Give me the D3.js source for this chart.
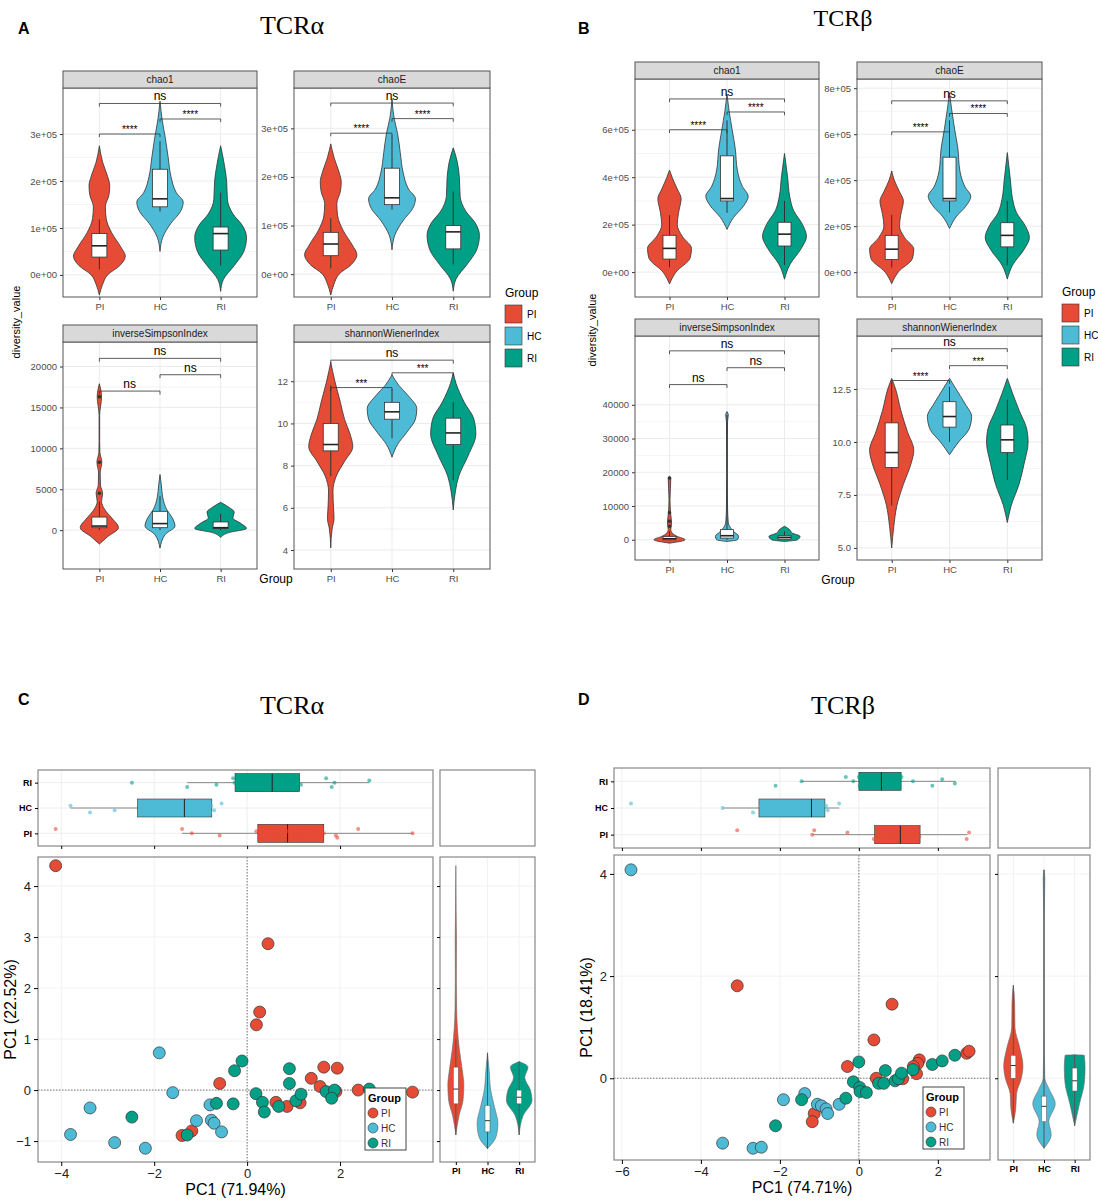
<!DOCTYPE html>
<html><head><meta charset="utf-8">
<script src="https://cdn.jsdelivr.net/npm/d3@7"></script>
<style>body{margin:0;background:#fff}text{font-family:"Liberation Sans",Arial,sans-serif}</style>
</head><body><svg id="fig" width="1098" height="1200"></svg>
<script>
const groups = ["PI", "HC", "RI"];
const colors = ["#E64B35", "#4DBBD5", "#00A087"];

// ---- panel A (TCRα) violin profiles: [value, relative half width] ----
const aChao1 = [
  [[-0.43,0],[-0.2,0.12],[0,0.3],[0.2,0.75],[0.4,0.95],[0.6,0.78],[0.9,0.45],[1.2,0.25],[1.45,0.22],[1.7,0.35],[1.9,0.38],[2.1,0.3],[2.4,0.12],[2.75,0]],
  [[0.5,0],[0.8,0.1],[1.1,0.4],[1.35,0.75],[1.55,0.85],[1.75,0.6],[2.1,0.4],[2.5,0.3],[2.9,0.2],[3.3,0.08],[3.7,0]],
  [[-0.35,0],[-0.1,0.1],[0.2,0.5],[0.5,0.85],[0.8,0.95],[1.05,0.8],[1.3,0.45],[1.6,0.25],[2.0,0.22],[2.3,0.15],[2.75,0]]];
const aChao1Box = [[0.12,0.38,0.62,0.88,1.18],[1.35,1.45,1.62,2.25,2.85],[0.2,0.53,0.88,1.02,1.75]];
const aChaoE = [
  [[-0.43,0],[-0.2,0.12],[0,0.3],[0.2,0.75],[0.4,0.95],[0.6,0.78],[0.9,0.45],[1.2,0.25],[1.45,0.22],[1.7,0.35],[1.9,0.38],[2.1,0.3],[2.4,0.12],[2.68,0]],
  [[0.5,0],[0.8,0.1],[1.1,0.4],[1.35,0.75],[1.55,0.85],[1.75,0.6],[2.1,0.4],[2.5,0.3],[2.9,0.2],[3.2,0.08],[3.6,0]],
  [[-0.35,0],[-0.1,0.1],[0.2,0.5],[0.5,0.85],[0.8,0.95],[1.05,0.8],[1.3,0.45],[1.6,0.25],[2.0,0.22],[2.3,0.15],[2.6,0]]];
const aChaoEBox = [[0.12,0.38,0.62,0.86,1.15],[1.33,1.43,1.57,2.18,2.85],[0.2,0.52,0.87,1.0,1.7]];
const aInv = [
  [[-1.7,0],[-0.8,0.3],[0.3,0.7],[1.5,0.45],[2.5,0.2],[3.5,0.08],[4.5,0.12],[5.5,0.04],[7,0.03],[8.3,0.09],[9.5,0.02],[11,0.01],[14,0.01],[16.3,0.08],[17.9,0]],
  [[-2.2,0],[-0.5,0.2],[0.5,0.55],[1.5,0.45],[2.5,0.25],[4,0.1],[5.5,0.05],[6.8,0]],
  [[-0.9,0],[-0.3,0.3],[0.2,0.95],[0.8,0.75],[1.5,0.45],[2.2,0.5],[2.8,0.3],[3.4,0]]];
const aInvBox = [[0,0.3,0.5,1.6,3.5],[0,0.3,0.8,2.3,4.2],[0,0.2,0.3,1.0,2.0]];
const aInvOut = [[4.5,8.3,16.3],[],[]];
const aSha = [
  [[4.1,0],[5,0.05],[5.5,0.12],[6,0.1],[6.8,0.08],[7.5,0.2],[8.2,0.5],[8.9,0.8],[9.5,0.7],[10.2,0.5],[11,0.35],[12,0.15],[12.9,0]],
  [[8.4,0],[9,0.2],[9.6,0.55],[10.2,0.85],[10.7,0.9],[11.3,0.6],[11.8,0.25],[12.3,0]],
  [[5.9,0],[6.8,0.08],[7.5,0.2],[8.5,0.55],[9.5,0.82],[10.2,0.75],[11,0.4],[11.9,0.1],[12.4,0]]];
const aShaBox = [[7.5,8.7,9.0,10.0,11.8],[9.3,10.2,10.55,11.0,11.6],[7.3,9.0,9.55,10.25,11.0]];

// ---- panel B (TCRβ) ----
const bChao1 = [
  [[-0.5,0],[0,0.25],[0.6,0.8],[1.0,0.85],[1.5,0.5],[2.0,0.3],[2.5,0.35],[3.1,0.45],[3.5,0.3],[4.0,0.1],[4.3,0]],
  [[1.8,0],[2.3,0.25],[2.8,0.65],[3.2,0.82],[3.6,0.6],[4.3,0.4],[5.2,0.32],[6.0,0.2],[6.8,0.08],[7.5,0]],
  [[-0.3,0],[0.3,0.2],[1.0,0.65],[1.5,0.85],[2.0,0.7],[2.6,0.35],[3.2,0.2],[4.0,0.12],[5.0,0]]];
const bChao1Box = [[0.2,0.55,1.0,1.55,2.4],[2.5,3.0,3.1,4.9,6.4],[0.3,1.1,1.6,2.1,3.0]];
const bChaoE = [
  [[-0.5,0],[0,0.25],[0.6,0.8],[1.0,0.85],[1.5,0.5],[2.0,0.3],[2.5,0.35],[3.1,0.45],[3.5,0.3],[4.0,0.1],[4.4,0]],
  [[1.9,0],[2.4,0.25],[2.9,0.65],[3.3,0.82],[3.7,0.6],[4.4,0.4],[5.4,0.32],[6.2,0.2],[7.1,0.08],[7.8,0]],
  [[-0.3,0],[0.3,0.2],[1.0,0.65],[1.5,0.85],[2.0,0.7],[2.6,0.35],[3.2,0.2],[4.0,0.12],[5.2,0]]];
const bChaoEBox = [[0.2,0.55,1.0,1.6,2.5],[2.6,3.1,3.2,5.0,6.6],[0.3,1.1,1.6,2.15,3.1]];
const bInv = [
  [[-1,0],[0,0.6],[1,0.3],[2,0.1],[3,0.05],[5,0.08],[8,0.04],[12,0.02],[18.3,0.05],[18.8,0]],
  [[-0.5,0],[0,0.4],[1,0.45],[2.5,0.25],[5,0.05],[10,0.02],[20,0.01],[35,0.02],[37,0.05],[38,0]],
  [[-0.5,0],[0,0.5],[1,0.6],[2,0.3],[3,0.2],[4,0]]];
const bInvBox = [[0,0,0.3,1.0,2.5],[0,0.5,1.2,3.0,37],[0,0.2,0.7,1.2,2.5]];
const bInvOut = [[4,5.5,8,18.3],[],[]];
const bSha = [
  [[5.0,0],[6,0.08],[7,0.2],[8,0.45],[9,0.75],[9.6,0.85],[10.5,0.6],[11.5,0.35],[12.5,0.15],[13,0]],
  [[9.4,0],[10,0.35],[10.6,0.75],[11.2,0.85],[11.8,0.6],[12.5,0.25],[13,0]],
  [[6.2,0],[7,0.15],[8,0.45],[9,0.65],[10,0.8],[10.6,0.75],[11.5,0.45],[12.3,0.2],[13,0]]];
const bShaBox = [[7,8.8,9.5,10.9,12.8],[10,10.7,11.2,11.9,12.6],[8.2,9.5,10.1,10.8,12]];

// significance brackets: [from, to, value, label]
const aChao1Sig = [[0,1,3.0,"****"],[1,2,3.32,"****"],[0,2,3.65,"ns"]];
const aChaoESig = [[0,1,2.9,"****"],[1,2,3.2,"****"],[0,2,3.52,"ns"]];
const aInvSig = [[0,1,17,"ns"],[1,2,19,"ns"],[0,2,21,"ns"]];
const aShaSig = [[0,1,11.7,"***"],[1,2,12.4,"***"],[0,2,13.0,"ns"]];
const bChao1Sig = [[0,1,6.0,"****"],[1,2,6.75,"****"],[0,2,7.3,"ns"]];
const bChaoESig = [[0,1,6.1,"****"],[1,2,6.9,"****"],[0,2,7.45,"ns"]];
const bInvSig = [[0,1,46,"ns"],[1,2,51,"ns"],[0,2,56,"ns"]];
const bShaSig = [[0,1,12.9,"****"],[1,2,13.6,"***"],[0,2,14.4,"ns"]];

// ---- panel C PCA points [PC1, PC2] ----
const cPI = [[-4.12,4.40],[0.45,2.87],[0.27,1.53],[0.20,1.28],[-0.59,0.13],[1.38,0.23],[1.65,0.45],[1.94,0.43],[1.57,0.07],[1.91,-0.03],[2.39,0],[3.56,-0.04],[0.62,-0.24],[0.86,-0.32],[1.14,-0.25],[-1.40,-0.89],[-1.19,-0.80]];
const cHC = [[-1.89,0.73],[-1.60,-0.05],[-3.38,-0.35],[-3.80,-0.87],[-2.85,-1.03],[-2.19,-1.14],[-1.09,-0.60],[-0.80,-0.29],[-0.77,-0.59],[-0.71,-0.65],[-0.55,-0.82]];
const cRI = [[-0.11,0.57],[-0.27,0.38],[0.91,0.42],[0.91,0.13],[0.19,-0.07],[0.33,-0.24],[0.37,-0.43],[0.68,-0.32],[1.05,-0.21],[1.16,-0.08],[1.70,-0.03],[1.88,0],[1.82,-0.16],[2.63,0.02],[-0.66,-0.26],[-0.30,-0.27],[-2.48,-0.53],[-1.29,-0.88]];
const cTopBox = [[-1.4,0.23,0.87,1.65,3.56],[-3.8,-2.36,-1.35,-0.76,-0.76],[-1.29,-0.26,0.54,1.13,2.63]];
const cSide = [
  [[-0.88,0],[-0.5,0.2],[-0.2,0.45],[0.1,0.5],[0.4,0.4],[0.8,0.22],[1.2,0.1],[1.6,0.05],[2.2,0.03],[2.9,0.04],[3.5,0.02],[4.4,0]],
  [[-1.15,0],[-0.9,0.55],[-0.65,0.65],[-0.35,0.45],[0,0.2],[0.4,0.1],[0.73,0]],
  [[-0.88,0],[-0.5,0.25],[-0.2,0.8],[0,0.7],[0.25,0.35],[0.45,0.55],[0.56,0]]];
const cSideBox = [[-0.88,-0.27,0.02,0.45,1.0],[-1.15,-0.82,-0.6,-0.3,0.73],[-0.88,-0.27,-0.14,0.0,0.56]];

// ---- panel D ----
const dPI = [[-3.08,1.81],[0.84,1.45],[0.38,0.75],[-0.29,0.23],[0.44,0],[-1.13,-0.69],[-1.18,-0.85],[1.11,-0.01],[1.46,0.09],[1.53,0.36],[1.49,0.29],[1.38,0.23],[2.73,0.49],[2.79,0.53]];
const dHC = [[-5.77,4.08],[-3.45,-1.27],[-2.68,-1.37],[-2.47,-1.35],[-1.91,-0.42],[-1.37,-0.30],[-1.05,-0.51],[-0.95,-0.54],[-0.83,-0.60],[-0.79,-0.69],[-0.50,-0.51]];
const dRI = [[0,0.32],[-0.14,-0.07],[0.02,-0.18],[0.03,-0.26],[0.19,-0.28],[0.50,-0.10],[0.63,-0.10],[0.67,0.15],[0.92,-0.05],[1.00,-0.01],[1.08,0.10],[1.37,0.17],[1.86,0.27],[2.11,0.34],[2.43,0.45],[-0.33,-0.39],[-1.45,-0.42],[-2.11,-0.93]];
const dTopBox = [[-1.16,0.4,1.05,1.55,2.75],[-3.43,-2.53,-1.2,-0.86,-0.5],[-1.45,0.0,0.57,1.07,2.45]];
const dSide = [
  [[-0.88,0],[-0.6,0.15],[-0.3,0.2],[0,0.5],[0.25,0.6],[0.6,0.4],[1.0,0.1],[1.5,0.08],[1.82,0]],
  [[-1.37,0],[-1.1,0.45],[-0.85,0.3],[-0.5,0.7],[-0.2,0.3],[0,0.05],[1,0.01],[3,0.01],[3.9,0.05],[4.08,0]],
  [[-0.93,0],[-0.5,0.3],[-0.1,0.6],[0.2,0.65],[0.45,0.6],[0.46,0]]];
const dSideBox = [[-0.88,0,0.25,0.45,1.82],[-1.37,-0.85,-0.55,-0.35,4.08],[-0.93,-0.25,-0.05,0.2,0.46]];

const svg = d3.select("#fig");
const GRID = "#ebebeb", BORDER = "#333";

function sciFmt(v) { return v === 0 ? "0e+00" : (v / 1e5) + "e+05"; }

function facet(o) {
  const g = svg.append("g");
  const x = d3.scalePoint().domain(groups).range([o.x0, o.x1]).padding(0.6);
  const y = d3.scaleLinear().domain(o.dom).range([o.y1, o.y0]);
  const step = x.step();
  const ticks = o.ticks;
  // minor + major grid
  for (let i = 0; i < ticks.length - 1; i++) {
    const m = (ticks[i] + ticks[i + 1]) / 2;
    g.append("line").attr("x1", o.x0).attr("x2", o.x1).attr("y1", y(m)).attr("y2", y(m)).attr("stroke", "#f4f4f4");
  }
  ticks.forEach(t => g.append("line").attr("x1", o.x0).attr("x2", o.x1).attr("y1", y(t)).attr("y2", y(t)).attr("stroke", GRID));
  groups.forEach(c => g.append("line").attr("x1", x(c)).attr("x2", x(c)).attr("y1", o.y0).attr("y2", o.y1).attr("stroke", GRID));
  // axes
  const ya = g.append("g").attr("transform", `translate(${o.x0},0)`)
    .call(d3.axisLeft(y).tickValues(ticks).tickFormat(o.fmt || (d => d)).tickSize(3));
  ya.select(".domain").remove();
  ya.selectAll("text").attr("fill", "#4d4d4d").style("font-size", "9.5px");
  ya.selectAll("line").attr("stroke", "#333");
  const xa = g.append("g").attr("transform", `translate(0,${o.y1})`).call(d3.axisBottom(x).tickSize(3));
  xa.select(".domain").remove();
  xa.selectAll("text").attr("fill", "#4d4d4d").style("font-size", "9.5px");
  xa.selectAll("line").attr("stroke", "#333");
  // violins
  const hw = step * 0.45;
  o.vio.forEach((prof, i) => {
    const cx = x(groups[i]);
    const area = d3.area().y(d => y(d[0])).x0(d => cx - d[1] * hw).x1(d => cx + d[1] * hw).curve(d3.curveMonotoneY);
    g.append("path").attr("d", area(prof)).attr("fill", colors[i]).attr("stroke", "#333").attr("stroke-width", 0.8);
    const b = o.box[i], bw = o.bw;
    g.append("line").attr("x1", cx).attr("x2", cx).attr("y1", y(b[0])).attr("y2", y(b[4])).attr("stroke", "#333");
    g.append("rect").attr("x", cx - bw / 2).attr("width", bw).attr("y", y(b[3])).attr("height", y(b[1]) - y(b[3]))
      .attr("fill", "#fff").attr("stroke", "#333").attr("stroke-width", 0.8);
    g.append("line").attr("x1", cx - bw / 2).attr("x2", cx + bw / 2).attr("y1", y(b[2])).attr("y2", y(b[2])).attr("stroke", "#222").attr("stroke-width", 1.6);
    (o.out ? o.out[i] : []).forEach(v => g.append("circle").attr("cx", cx).attr("cy", y(v)).attr("r", 1.8).attr("fill", "#333"));
  });
  // brackets
  const tip = (o.dom[1] - o.dom[0]) * 0.015;
  o.sig.forEach(s => {
    const xa1 = x(groups[s[0]]), xb = x(groups[s[1]]);
    g.append("path").attr("d", `M${xa1},${y(s[2] - tip)}V${y(s[2])}H${xb}V${y(s[2] - tip)}`).attr("fill", "none").attr("stroke", "#333").attr("stroke-width", 0.8);
    g.append("text").attr("x", (xa1 + xb) / 2).attr("y", y(s[2]) - (s[3] === "ns" ? 3 : 1)).attr("text-anchor", "middle")
      .style("font-size", s[3] === "ns" ? "12px" : "10px").text(s[3]);
  });
  // border + strip
  g.append("rect").attr("x", o.x0).attr("y", o.y0).attr("width", o.x1 - o.x0).attr("height", o.y1 - o.y0).attr("fill", "none").attr("stroke", "#555");
  g.append("rect").attr("x", o.x0).attr("y", o.y0 - 17).attr("width", o.x1 - o.x0).attr("height", 17).attr("fill", "#d9d9d9").attr("stroke", "#555");
  g.append("text").attr("x", (o.x0 + o.x1) / 2).attr("y", o.y0 - 5).attr("text-anchor", "middle").style("font-size", "10px").attr("fill", "#1a1a1a").text(o.label);
}

function label(x, y, t, size, opts = {}) {
  const el = svg.append("text").attr("x", x).attr("y", y).style("font-size", size + "px").text(t);
  if (opts.bold) el.style("font-weight", "bold");
  if (opts.serif) el.style("font-family", "'Liberation Serif','Times New Roman',serif");
  if (opts.anchor) el.attr("text-anchor", opts.anchor);
  if (opts.rot) el.attr("transform", `rotate(-90,${x},${y})`);
  return el;
}

function legendBox(x, y) {
  label(x, y, "Group", 12);
  groups.forEach((gname, i) => {
    svg.append("rect").attr("x", x).attr("y", y + 8 + i * 22).attr("width", 17).attr("height", 18).attr("fill", colors[i]).attr("stroke", "#333").attr("stroke-width", 0.6);
    label(x + 22, y + 21 + i * 22, gname, 10);
  });
}

// ===== A =====
label(18, 34, "A", 16, { bold: true });
label(292, 34, "TCRα", 26, { serif: true, anchor: "middle" });
facet({ x0: 63, x1: 257, y0: 88, y1: 297, dom: [-0.47, 3.98], ticks: [0, 1, 2, 3], fmt: d => sciFmt(d * 1e5), vio: aChao1, box: aChao1Box, sig: aChao1Sig, label: "chao1", bw: 15 });
facet({ x0: 294, x1: 490, y0: 88, y1: 297, dom: [-0.47, 3.83], ticks: [0, 1, 2, 3], fmt: d => sciFmt(d * 1e5), vio: aChaoE, box: aChaoEBox, sig: aChaoESig, label: "chaoE", bw: 15 });
facet({ x0: 63, x1: 257, y0: 342, y1: 569, dom: [-4.75, 23], ticks: [0, 5, 10, 15, 20], fmt: d => d * 1000, vio: aInv, box: aInvBox, out: aInvOut, sig: aInvSig, label: "inverseSimpsonIndex", bw: 15 });
facet({ x0: 294, x1: 490, y0: 342, y1: 569, dom: [3.1, 13.86], ticks: [4, 6, 8, 10, 12], vio: aSha, box: aShaBox, sig: aShaSig, label: "shannonWienerIndex", bw: 15 });
label(20, 322, "diversity_value", 11, { rot: true, anchor: "middle" });
label(276, 583, "Group", 12, { anchor: "middle" });
legendBox(505, 297);

// ===== B =====
label(578, 34, "B", 16, { bold: true });
label(843, 26, "TCRβ", 24, { serif: true, anchor: "middle" });
facet({ x0: 635, x1: 819, y0: 79, y1: 297, dom: [-1.05, 8.14], ticks: [0, 2, 4, 6], fmt: d => sciFmt(d * 1e5), vio: bChao1, box: bChao1Box, sig: bChao1Sig, label: "chao1", bw: 13 });
facet({ x0: 857, x1: 1042, y0: 79, y1: 297, dom: [-1.08, 8.4], ticks: [0, 2, 4, 6, 8], fmt: d => sciFmt(d * 1e5), vio: bChaoE, box: bChaoEBox, sig: bChaoESig, label: "chaoE", bw: 13 });
facet({ x0: 635, x1: 819, y0: 336, y1: 560, dom: [-6, 60.4], ticks: [0, 10, 20, 30, 40], fmt: d => d * 1000, vio: bInv, box: bInvBox, out: bInvOut, sig: bInvSig, label: "inverseSimpsonIndex", bw: 13 });
facet({ x0: 857, x1: 1042, y0: 336, y1: 560, dom: [4.43, 15.0], ticks: [5, 7.5, 10, 12.5], fmt: d3.format(".1f"), vio: bSha, box: bShaBox, sig: bShaSig, label: "shannonWienerIndex", bw: 13 });
label(596, 330, "diversity_value", 11, { rot: true, anchor: "middle" });
label(838, 584, "Group", 12, { anchor: "middle" });
legendBox(1062, 296);

// ===== PCA panels =====
function pca(o) {
  const x = d3.scaleLinear().domain(o.xd).range([o.x0, o.x1]);
  const y = d3.scaleLinear().domain(o.yd).range([o.y1, o.y0]);
  const g = svg.append("g");
  const frame = (x0, x1, y0, y1) => g.append("rect").attr("x", x0).attr("y", y0).attr("width", x1 - x0).attr("height", y1 - y0).attr("fill", "none").attr("stroke", "#888").attr("stroke-width", 1.2);
  const xt = o.xticks;
  // top boxplot panel
  const ty = d3.scalePoint().domain(["PI", "HC", "RI"]).range([o.t1, o.t0]).padding(0.5);
  xt.forEach(t => g.append("line").attr("x1", x(t)).attr("x2", x(t)).attr("y1", o.t0).attr("y2", o.t1).attr("stroke", "#eee"));
  groups.forEach(c => g.append("line").attr("x1", o.x0).attr("x2", o.x1).attr("y1", ty(c)).attr("y2", ty(c)).attr("stroke", "#eee"));
  o.pts.forEach((arr, i) => {
    const cy = ty(groups[i]), b = o.top[i];
    g.append("line").attr("x1", x(b[0])).attr("x2", x(b[4])).attr("y1", cy).attr("y2", cy).attr("stroke", "#888");
    g.append("rect").attr("x", x(b[1])).attr("width", x(b[3]) - x(b[1])).attr("y", cy - 9).attr("height", 18).attr("fill", colors[i]).attr("stroke", "#333").attr("stroke-width", 0.6);
    g.append("line").attr("x1", x(b[2])).attr("x2", x(b[2])).attr("y1", cy - 9).attr("y2", cy + 9).attr("stroke", "#222");
    arr.forEach((p, k) => g.append("circle").attr("cx", x(p[0])).attr("cy", cy + ((k * 7) % 5 - 2) * 2.2).attr("r", 2).attr("fill", colors[i]).attr("opacity", 0.6));
  });
  frame(o.x0, o.x1, o.t0, o.t1);
  frame(o.s0, o.s1, o.t0, o.t1);
  const lax = g.append("g").attr("transform", `translate(${o.x0},0)`).call(d3.axisLeft(ty).tickSize(3));
  lax.select(".domain").remove();
  lax.selectAll("text").style("font-size", "9px").style("font-weight", "bold");
  const tax = g.append("g").attr("transform", `translate(0,${o.t1})`).call(d3.axisBottom(x).tickValues(xt).tickSize(3).tickFormat(""));
  tax.select(".domain").remove();

  // scatter
  xt.forEach(t => g.append("line").attr("x1", x(t)).attr("x2", x(t)).attr("y1", o.y0).attr("y2", o.y1).attr("stroke", "#f2f2f2"));
  o.yticks.forEach(t => g.append("line").attr("x1", o.x0).attr("x2", o.x1).attr("y1", y(t)).attr("y2", y(t)).attr("stroke", "#f2f2f2"));
  g.append("line").attr("x1", x(0)).attr("x2", x(0)).attr("y1", o.y0).attr("y2", o.y1).attr("stroke", "#777").attr("stroke-dasharray", "1.5,1.5");
  g.append("line").attr("x1", o.x0).attr("x2", o.x1).attr("y1", y(0)).attr("y2", y(0)).attr("stroke", "#777").attr("stroke-dasharray", "1.5,1.5");
  o.pts.forEach((arr, i) => arr.forEach(p => g.append("circle").attr("cx", x(p[0])).attr("cy", y(p[1])).attr("r", 6).attr("fill", colors[i]).attr("stroke", "#333").attr("stroke-width", 0.7)));
  frame(o.x0, o.x1, o.y0, o.y1);
  const bx = g.append("g").attr("transform", `translate(0,${o.y1})`).call(d3.axisBottom(x).tickValues(xt).tickSize(4).tickFormat(d => d < 0 ? "−" + (-d) : d));
  bx.select(".domain").remove(); bx.selectAll("text").style("font-size", "13px").attr("fill", "#222");
  const by = g.append("g").attr("transform", `translate(${o.x0},0)`).call(d3.axisLeft(y).tickValues(o.yticks).tickSize(4).tickFormat(d => d < 0 ? "−" + (-d) : d));
  by.select(".domain").remove(); by.selectAll("text").style("font-size", "13px").attr("fill", "#222");
  label((o.x0 + o.x1) / 2, o.y1 + 33, o.xlab, 16, { anchor: "middle" });
  label(o.x0 - 22, (o.y0 + o.y1) / 2, o.ylab, 16, { anchor: "middle", rot: true });
  // legend
  const lg = g.append("g");
  lg.append("rect").attr("x", o.lx).attr("y", o.ly).attr("width", 41).attr("height", 62).attr("fill", "#fff").attr("stroke", "#444");
  label(o.lx + 3, o.ly + 14, "Group", 11, { bold: true });
  groups.forEach((gn, i) => {
    g.append("circle").attr("cx", o.lx + 8).attr("cy", o.ly + 25 + i * 15).attr("r", 5).attr("fill", colors[i]).attr("stroke", "#333").attr("stroke-width", 0.6);
    label(o.lx + 16, o.ly + 29 + i * 15, gn, 10).attr("fill", "#333");
  });

  // side violins
  const sx = d3.scalePoint().domain(groups).range([o.s0, o.s1]).padding(0.5);
  groups.forEach(c => g.append("line").attr("x1", sx(c)).attr("x2", sx(c)).attr("y1", o.y0).attr("y2", o.y1).attr("stroke", "#f2f2f2"));
  o.yticks.forEach(t => g.append("line").attr("x1", o.s0).attr("x2", o.s1).attr("y1", y(t)).attr("y2", y(t)).attr("stroke", "#f2f2f2"));
  o.side.forEach((prof, i) => {
    const cx = sx(groups[i]);
    const area = d3.area().y(d => y(d[0])).x0(d => cx - d[1] * 16).x1(d => cx + d[1] * 16).curve(d3.curveMonotoneY);
    g.append("path").attr("d", area(prof)).attr("fill", colors[i]).attr("stroke", "#666").attr("stroke-width", 0.6);
    const b = o.sideBox[i];
    g.append("line").attr("x1", cx).attr("x2", cx).attr("y1", y(b[0])).attr("y2", y(b[4])).attr("stroke", "#555");
    g.append("rect").attr("x", cx - 2.5).attr("width", 5).attr("y", y(b[3])).attr("height", y(b[1]) - y(b[3])).attr("fill", "#fff").attr("stroke", "#555").attr("stroke-width", 0.5);
    g.append("line").attr("x1", cx - 2.5).attr("x2", cx + 2.5).attr("y1", y(b[2])).attr("y2", y(b[2])).attr("stroke", "#333");
  });
  frame(o.s0, o.s1, o.y0, o.y1);
  const sax = g.append("g").attr("transform", `translate(0,${o.y1})`).call(d3.axisBottom(sx).tickSize(3));
  sax.select(".domain").remove(); sax.selectAll("text").style("font-size", "9px").style("font-weight", "bold");
  const say = g.append("g").attr("transform", `translate(${o.s0},0)`).call(d3.axisLeft(y).tickValues(o.yticks).tickSize(3).tickFormat(""));
  say.select(".domain").remove();
}

label(18, 705, "C", 16, { bold: true });
label(292, 714, "TCRα", 26, { serif: true, anchor: "middle" });
pca({ x0: 38, x1: 433, y0: 857, y1: 1162, t0: 770, t1: 846, s0: 440, s1: 535,
  xd: [-4.5, 4.0], yd: [-1.41, 4.57], xticks: [-4, -2, 0, 2], yticks: [-1, 0, 1, 2, 3, 4],
  pts: [cPI, cHC, cRI], top: cTopBox, side: cSide, sideBox: cSideBox,
  xlab: "PC1 (71.94%)", ylab: "PC1 (22.52%)", lx: 365, ly: 1088 });

label(578, 705, "D", 16, { bold: true });
label(843, 714, "TCRβ", 26, { serif: true, anchor: "middle" });
pca({ x0: 614, x1: 990, y0: 855, y1: 1160, t0: 768, t1: 848, s0: 998, s1: 1090,
  xd: [-6.2, 3.32], yd: [-1.6, 4.37], xticks: [-6, -4, -2, 0, 2], yticks: [0, 2, 4],
  pts: [dPI, dHC, dRI], top: dTopBox, side: dSide, sideBox: dSideBox,
  xlab: "PC1 (74.71%)", ylab: "PC1 (18.41%)", lx: 923, ly: 1087 });
</script></body></html>
